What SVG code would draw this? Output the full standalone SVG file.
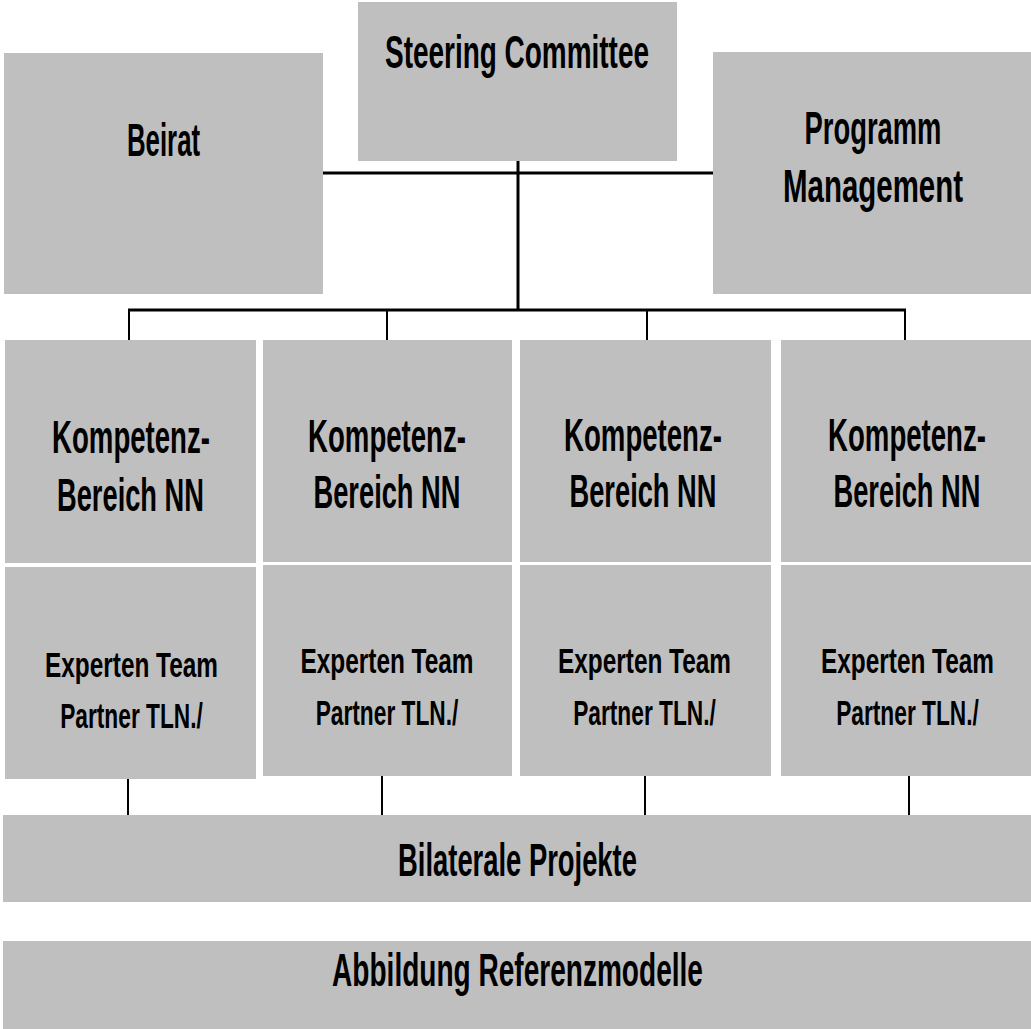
<svg xmlns="http://www.w3.org/2000/svg" width="1031" height="1029" viewBox="0 0 1031 1029">
<style>
.box{fill:#bfbfbf;}
.t{font-family:"Liberation Sans",Arial,sans-serif;font-weight:bold;font-size:46px;fill:#000;text-anchor:middle;}
.s{font-size:35px;}
.ln{stroke:#000;fill:none;}
</style>
<rect width="1031" height="1029" fill="#fff"/>
<g id="connectors">
<line class="ln" x1="323" y1="173" x2="713" y2="173" stroke-width="3"/>
<line class="ln" x1="518" y1="161" x2="518" y2="311" stroke-width="3"/>
<line class="ln" x1="128" y1="310" x2="906" y2="310" stroke-width="3"/>
<line class="ln" x1="129" y1="310" x2="129" y2="340" stroke-width="2"/>
<line class="ln" x1="387" y1="310" x2="387" y2="340" stroke-width="2"/>
<line class="ln" x1="647" y1="310" x2="647" y2="340" stroke-width="2"/>
<line class="ln" x1="905" y1="310" x2="905" y2="340" stroke-width="2"/>
<line class="ln" x1="128" y1="779" x2="128" y2="815" stroke-width="2"/>
<line class="ln" x1="382" y1="776" x2="382" y2="815" stroke-width="2"/>
<line class="ln" x1="645" y1="776" x2="645" y2="815" stroke-width="2"/>
<line class="ln" x1="909" y1="776" x2="909" y2="815" stroke-width="2"/>
</g>
<g id="steering">
<rect class="box" x="358" y="2" width="319" height="159"/>
<text class="t" transform="matrix(0.6 0 0 1 517 68)" textLength="440" lengthAdjust="spacingAndGlyphs">Steering Committee</text>
</g>
<g id="beirat">
<rect class="box" x="4" y="53" width="319" height="241"/>
<text class="t" transform="matrix(0.6 0 0 1 163.5 156)" textLength="122" lengthAdjust="spacingAndGlyphs">Beirat</text>
</g>
<g id="programm">
<rect class="box" x="713" y="52" width="318" height="242"/>
<text class="t" transform="matrix(0.6 0 0 1 873 144)" textLength="228" lengthAdjust="spacingAndGlyphs">Programm</text>
<text class="t" transform="matrix(0.6 0 0 1 873 202)" textLength="300" lengthAdjust="spacingAndGlyphs">Management</text>
</g>
<g id="kompetenz1">
<rect class="box" x="5" y="340" width="251" height="223"/>
<text class="t" transform="matrix(0.6 0 0 1 131 453)" textLength="263" lengthAdjust="spacingAndGlyphs">Kompetenz-</text>
<text class="t" transform="matrix(0.6 0 0 1 130.5 511)" textLength="245" lengthAdjust="spacingAndGlyphs">Bereich NN</text>
</g>
<g id="kompetenz2">
<rect class="box" x="263" y="340" width="249" height="222"/>
<text class="t" transform="matrix(0.6 0 0 1 387 452)" textLength="263" lengthAdjust="spacingAndGlyphs">Kompetenz-</text>
<text class="t" transform="matrix(0.6 0 0 1 387 508)" textLength="245" lengthAdjust="spacingAndGlyphs">Bereich NN</text>
</g>
<g id="kompetenz3">
<rect class="box" x="520" y="340" width="251" height="222"/>
<text class="t" transform="matrix(0.6 0 0 1 643 451)" textLength="263" lengthAdjust="spacingAndGlyphs">Kompetenz-</text>
<text class="t" transform="matrix(0.6 0 0 1 643 507)" textLength="245" lengthAdjust="spacingAndGlyphs">Bereich NN</text>
</g>
<g id="kompetenz4">
<rect class="box" x="781" y="340" width="250" height="222"/>
<text class="t" transform="matrix(0.6 0 0 1 907 451)" textLength="263" lengthAdjust="spacingAndGlyphs">Kompetenz-</text>
<text class="t" transform="matrix(0.6 0 0 1 907 507)" textLength="245" lengthAdjust="spacingAndGlyphs">Bereich NN</text>
</g>
<g id="experten1">
<rect class="box" x="5" y="567" width="251" height="212"/>
<text class="t s" transform="matrix(0.67 0 0 1 131.5 677)" textLength="258" lengthAdjust="spacingAndGlyphs">Experten Team</text>
<text class="t s" transform="matrix(0.67 0 0 1 131.5 728)" textLength="213" lengthAdjust="spacingAndGlyphs">Partner TLN./</text>
</g>
<g id="experten2">
<rect class="box" x="263" y="565" width="249" height="211"/>
<text class="t s" transform="matrix(0.67 0 0 1 387 673)" textLength="258" lengthAdjust="spacingAndGlyphs">Experten Team</text>
<text class="t s" transform="matrix(0.67 0 0 1 387 725)" textLength="213" lengthAdjust="spacingAndGlyphs">Partner TLN./</text>
</g>
<g id="experten3">
<rect class="box" x="520" y="565" width="251" height="211"/>
<text class="t s" transform="matrix(0.67 0 0 1 644.5 673)" textLength="258" lengthAdjust="spacingAndGlyphs">Experten Team</text>
<text class="t s" transform="matrix(0.67 0 0 1 644.5 725)" textLength="213" lengthAdjust="spacingAndGlyphs">Partner TLN./</text>
</g>
<g id="experten4">
<rect class="box" x="781" y="565" width="250" height="211"/>
<text class="t s" transform="matrix(0.67 0 0 1 907.5 673)" textLength="258" lengthAdjust="spacingAndGlyphs">Experten Team</text>
<text class="t s" transform="matrix(0.67 0 0 1 907.5 725)" textLength="213" lengthAdjust="spacingAndGlyphs">Partner TLN./</text>
</g>
<g id="bilaterale">
<rect class="box" x="3" y="815" width="1028" height="87"/>
<text class="t" transform="matrix(0.6 0 0 1 517.5 876)" textLength="398" lengthAdjust="spacingAndGlyphs">Bilaterale Projekte</text>
</g>
<g id="abbildung">
<rect class="box" x="3" y="941" width="1028" height="88"/>
<text class="t" transform="matrix(0.6 0 0 1 517.5 986)" textLength="618" lengthAdjust="spacingAndGlyphs">Abbildung Referenzmodelle</text>
</g>
</svg>
